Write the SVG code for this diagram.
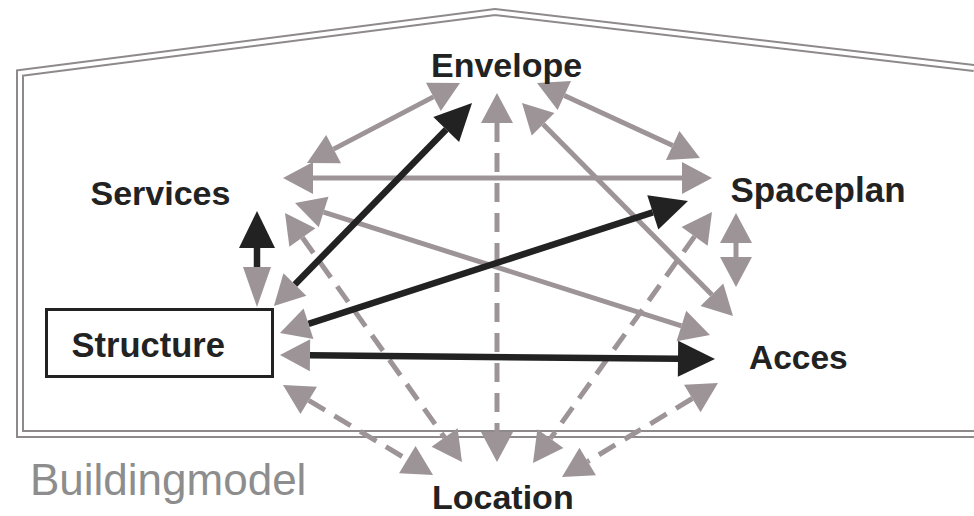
<svg xmlns="http://www.w3.org/2000/svg" width="974" height="516" viewBox="0 0 974 516">
  <style>
    .wall-out { fill: none; stroke: #8e898a; stroke-width: 8; stroke-linejoin: miter; }
    .wall-in { fill: none; stroke: #ffffff; stroke-width: 4; stroke-linejoin: miter; }
    .label { font-family: "Liberation Sans", Arial, Helvetica, sans-serif; font-weight: bold; fill: #222222; }
    .model { font-family: "Liberation Sans", Arial, Helvetica, sans-serif; font-size: 44px; fill: #8d8d8d; }
    .rel { fill: none; stroke: #9d9497; stroke-width: 5; }
    .dash { stroke-dasharray: 19 11; }
    .strong { fill: none; stroke: #222222; stroke-width: 6.5; }
    .g2 { marker-start: url(#hg); marker-end: url(#hg); }
    .gd { marker-start: url(#hg); marker-end: url(#hd); }
  </style>
  <defs>
    <marker id="hg" markerUnits="userSpaceOnUse" orient="auto-start-reverse" refX="0" refY="0" markerWidth="40" markerHeight="40" overflow="visible">
      <path d="M0,-16 L30,0 L0,16 Z" fill="#9d9497"/>
    </marker>
    <marker id="hgl" markerUnits="userSpaceOnUse" orient="auto-start-reverse" refX="0" refY="0" markerWidth="40" markerHeight="40" overflow="visible">
      <path d="M0,-14 L40,0 L0,14 Z" fill="#9d9497"/>
    </marker>
    <marker id="hd" markerUnits="userSpaceOnUse" orient="auto-start-reverse" refX="0" refY="0" markerWidth="40" markerHeight="40" overflow="visible">
      <path d="M0,-18 L37,0 L0,18 Z" fill="#222222"/>
    </marker>
  </defs>
  <rect width="974" height="516" fill="#ffffff"/>

  <!-- building outline: double line -->
  <g id="building">
    <path class="wall-out" d="M974,434 L20,434 L20,73 L495,12 L974,68"/>
    <path class="wall-in" d="M974,434 L20,434 L20,73 L495,12 L974,68"/>
    <text class="model" x="30" y="495">Buildingmodel</text>
  </g>

  <g id="connectors">
    <!-- solid grey two-way relations -->
    <path class="rel g2" d="M333.6,149.1 L433.4,96.9"/>
    <path class="rel g2" d="M313,178 L682,178"/>
    <path class="rel g2" d="M564.3,95.5 L672.7,145.5"/>
    <path class="rel g2" d="M543.1,124.3 L711.9,294.7"/>
    <path class="rel g2" d="M323.6,212.1 L681.4,325.9"/>
    <path class="rel g2" d="M736,243 L736,257"/>
    <!-- dashed relations towards Location -->
    <path class="rel dash g2" d="M302.4,237.5 L444.6,437.5"/>
    <path class="rel dash g2" d="M308.7,400.4 L407.3,459.6"/>
    <path class="rel dash g2" d="M497,123 L497,432"/>
    <path class="rel dash g2" d="M694.6,236.4 L550.4,438.6"/>
    <path class="rel dash g2" d="M692.3,398.5 L587.7,461.5"/>
    <!-- strong relations leaving Structure -->
    <path class="strong gd" d="M294.9,284.5 L446.2,129.5"/>
    <path class="strong gd" d="M308.5,323.8 L652.8,212.4"/>
    <path class="strong gd" d="M310,355.3 L678,358.7"/>
    <path class="strong" d="M257,248 L257,267" marker-start="url(#hd)" marker-end="url(#hgl)"/>
  </g>

  <g id="envelope">
    <text class="label" x="431" y="77" font-size="34">Envelope</text>
  </g>
  <g id="services">
    <text class="label" x="90.5" y="205" font-size="34">Services</text>
  </g>
  <g id="spaceplan">
    <text class="label" x="730.5" y="202" font-size="35">Spaceplan</text>
  </g>
  <g id="structure">
    <rect x="46.5" y="309.5" width="226" height="67" fill="#ffffff" stroke="#222222" stroke-width="3"/>
    <text class="label" x="71.5" y="357" font-size="34.5">Structure</text>
  </g>
  <g id="acces">
    <text class="label" x="749" y="369" font-size="33.5">Acces</text>
  </g>
  <g id="location">
    <text class="label" x="432" y="508.5" font-size="34">Location</text>
  </g>
</svg>
